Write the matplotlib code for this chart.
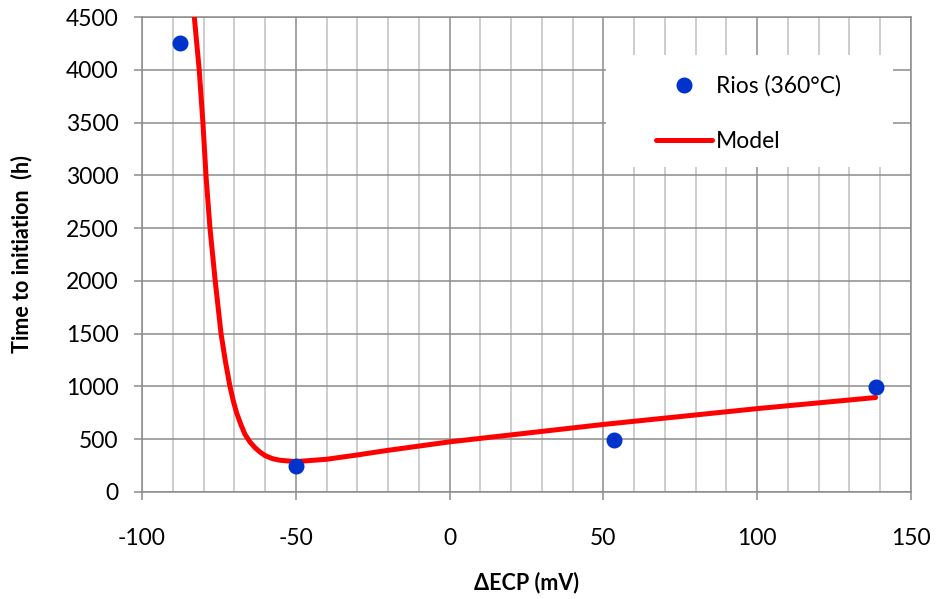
import matplotlib
matplotlib.use('Agg')
import matplotlib.pyplot as plt
from matplotlib.ticker import MultipleLocator
from matplotlib.patches import Rectangle

plt.rcParams['font.family'] = ['Lato', 'DejaVu Sans']
plt.rcParams['axes.unicode_minus'] = False

# measured points
rios_x = [-87.5, -50, 53.5, 138.5]
rios_y = [4250, 245, 490, 995]

# model curve
model_x = [-83.0, -81.4, -80.2, -79.2, -77.9, -76.2, -74.3, -72.9, -71.4, -70.3,
           -69.2, -67.8, -66.5, -64.8, -63.2, -61.5, -60, -57.5, -55, -50,
           -40, -30, -20, 0, 50, 100, 138.5]
model_y = [4500, 4000, 3500, 3000, 2500, 2000, 1500, 1240, 1000, 860,
           746, 635, 545, 470, 418, 375, 345, 315, 300, 288,
           310, 351, 395, 475, 640, 790, 895]

grid_dark = '#8c8c8c'
grid_light = '#c0c0c0'

fig = plt.figure(figsize=(9.36, 5.99), dpi=100)
ax = fig.add_axes([142/936, 1 - 492/599, 769/936, 475/599])

ax.plot(model_x, model_y, color='#ff0000', linewidth=3.6, solid_capstyle='round',
        solid_joinstyle='round', label='Model', zorder=3)
ax.plot(rios_x, rios_y, 'o', color='#0033cc', markersize=10.5, label='Rios (360°C)',
        zorder=4)

ax.set_xlim(-100, 150)
ax.set_ylim(0, 4500)
ax.xaxis.set_major_locator(MultipleLocator(50))
ax.xaxis.set_minor_locator(MultipleLocator(10))
ax.yaxis.set_major_locator(MultipleLocator(500))

ax.set_axisbelow(True)
ax.grid(which='major', color=grid_dark, linewidth=1.1)
ax.grid(which='minor', axis='x', color=grid_light, linewidth=1.1)
for s in ax.spines.values():
    s.set_color(grid_dark)
    s.set_linewidth(1.1)

ax.tick_params(which='major', direction='out', length=6, width=1.1, color=grid_dark,
               labelsize=16.5)
ax.tick_params(axis='x', which='major', pad=20)
ax.tick_params(axis='y', which='major', pad=11)
ax.tick_params(which='minor', length=0)

ax.set_xlabel('ΔECP (mV)', fontsize=15.5, fontweight='bold')
ax.set_ylabel('Time to initiation  (h)', fontsize=15.5, fontweight='bold')
ax.xaxis.set_label_coords(0.5, -0.168)
ax.yaxis.set_label_coords(-0.142, 0.5)

# white box behind the legend, covering the grid
ax.add_patch(Rectangle((0.603, 0.684), 0.374, 0.236, transform=ax.transAxes,
                       facecolor='white', edgecolor='none', zorder=1))
handles, labels = ax.get_legend_handles_labels()
ax.legend(handles[::-1], labels[::-1], loc='upper left', bbox_to_anchor=(0.653, 0.902),
          frameon=False, fontsize=16.5, borderpad=0, handlelength=2.45,
          handletextpad=0.2, labelspacing=1.5)

fig.savefig('out.png', dpi=100)
